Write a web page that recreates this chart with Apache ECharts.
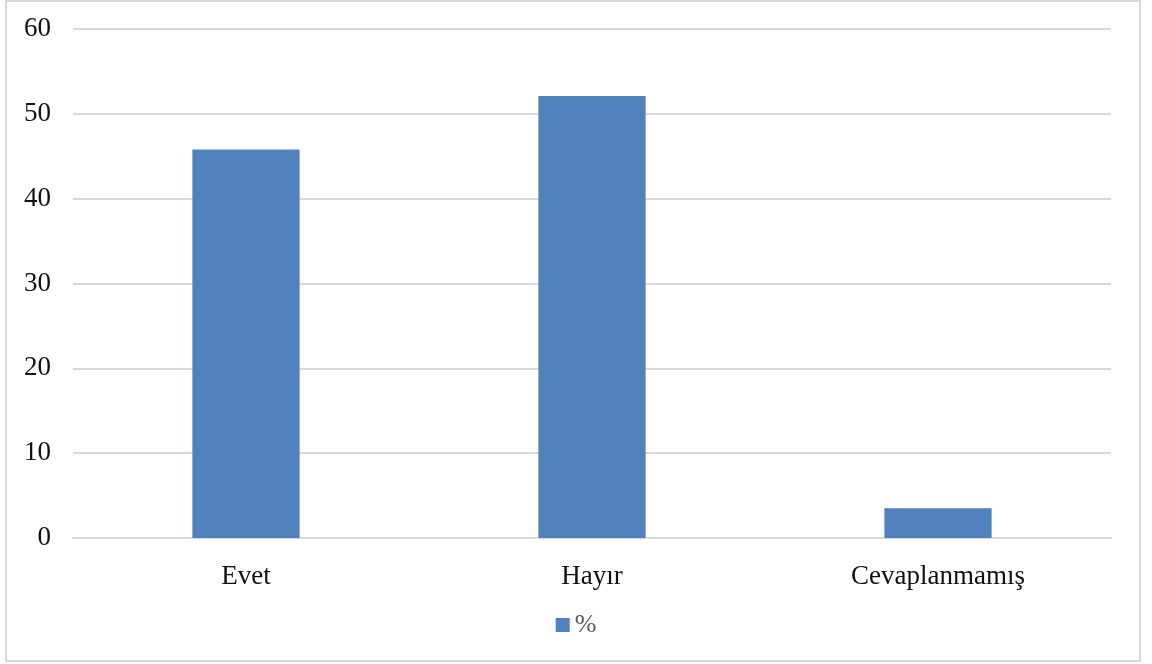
<!DOCTYPE html>
<html>
<head>
<meta charset="utf-8">
<script src="https://cdn.jsdelivr.net/npm/echarts@6/dist/echarts.min.js"></script>
<style>
html,body{margin:0;padding:0;background:#fff;}
#chart{width:1152px;height:664px;}
</style>
</head>
<body>
<div id="chart"></div>
<script>
const categories = ['Evet', 'Hayır', 'Cevaplanmamış'];
const seriesName = '%';
const values = [45.8, 52.1, 3.5];
const yTicks = [0, 10, 20, 30, 40, 50, 60];

const chart = echarts.init(document.getElementById('chart'));
const font = '"Liberation Serif", "Times New Roman", serif';
chart.setOption({
  animation: false,
  backgroundColor: '#fff',
  graphic: [{
    type: 'rect',
    shape: {x: 6, y: 1, width: 1134, height: 660},
    style: {fill: 'none', stroke: '#d9d9d9', lineWidth: 2},
    z: -1
  }],
  grid: {left: 73, right: 41, top: 29, bottom: 126, containLabel: false},
  legend: {
    data: [seriesName],
    top: 607,
    left: 'center',
    icon: 'rect',
    itemWidth: 14,
    itemHeight: 14,
    itemGap: 10,
    textStyle: {fontFamily: font, fontSize: 26, color: '#595959'}
  },
  xAxis: {
    type: 'category',
    data: categories,
    axisTick: {show: false},
    axisLine: {show: true, lineStyle: {color: '#d9d9d9', width: 2}},
    axisLabel: {fontFamily: font, fontSize: 27, color: '#111', margin: 25}
  },
  yAxis: {
    type: 'value',
    min: yTicks[0],
    max: yTicks[yTicks.length - 1],
    interval: 10,
    axisLine: {show: false},
    axisTick: {show: false},
    splitLine: {lineStyle: {color: '#d9d9d9', width: 2}},
    axisLabel: {fontFamily: font, fontSize: 27, color: '#111', margin: 22}
  },
  series: [{
    name: seriesName,
    type: 'bar',
    data: values,
    barWidth: '31%',
    itemStyle: {color: '#4f81bd'}
  }]
});
</script>
</body>
</html>
